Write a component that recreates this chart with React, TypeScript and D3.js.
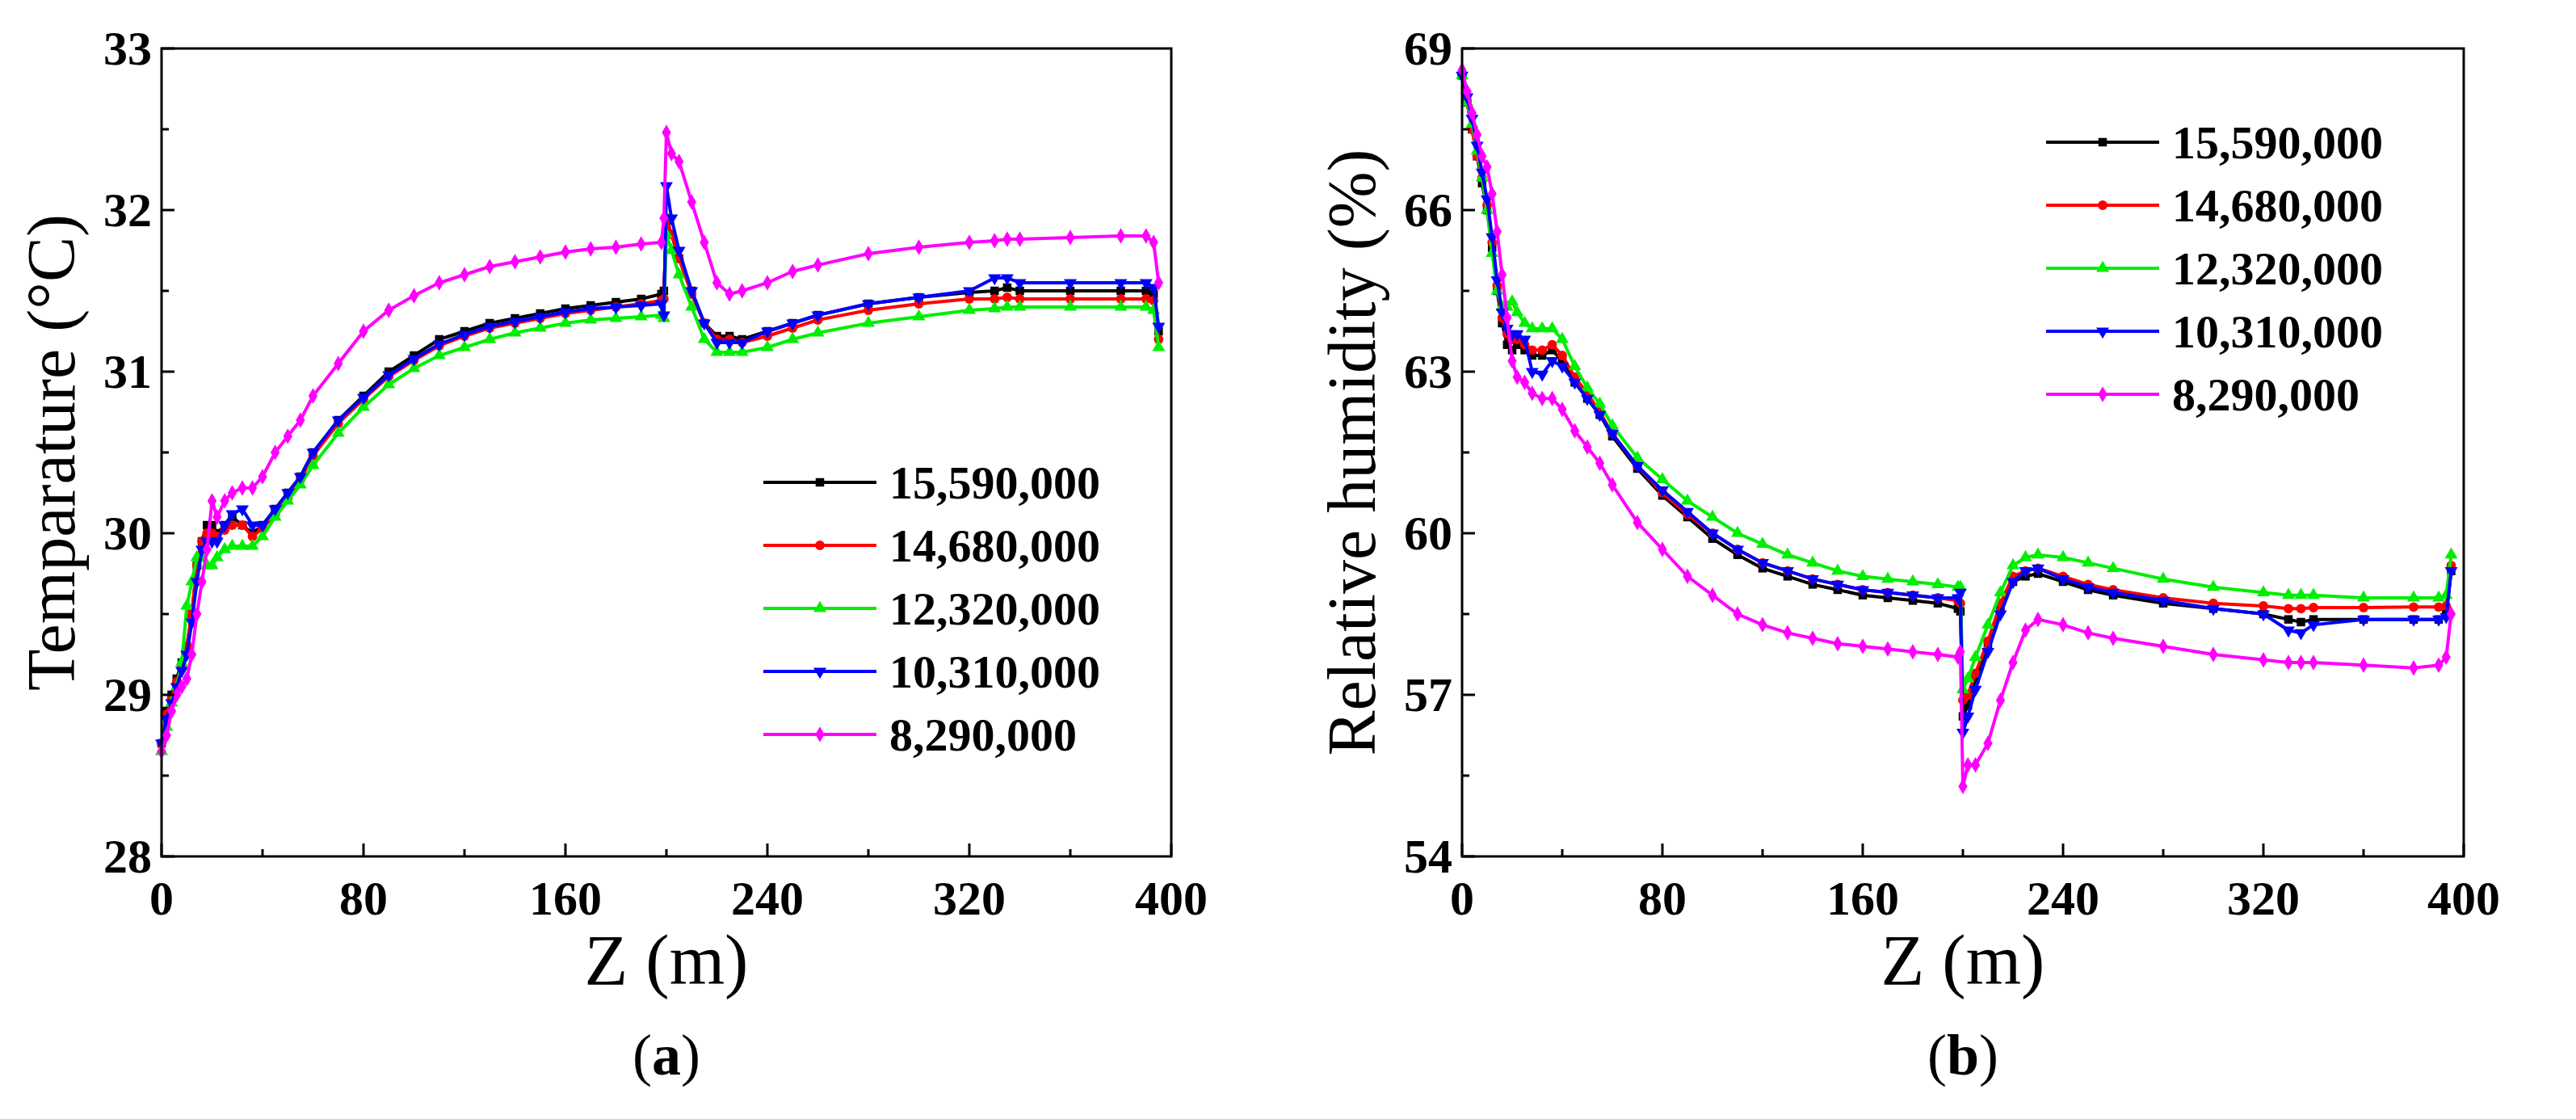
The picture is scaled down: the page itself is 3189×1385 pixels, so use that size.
import React from 'react';
import * as d3 from 'd3';

const zs = [0,2,4,6,8,10,12,14,16,18,20,22,25,28,32,36,40,45,50,55,60,70,80,90,100,110,120,130,140,150,160,170,180,190,198,199,200,202,205,210,215,220,225,230,240,250,260,280,300,320,330,335,340,360,380,390,393,395];

const seriesNames = ['15,590,000', '14,680,000', '12,320,000', '10,310,000', '8,290,000'];
const seriesColors = ['#000000', '#ff0000', '#00ee00', '#0000ff', '#ff00ff'];
const seriesSymbols = [d3.symbolSquare, d3.symbolCircle, d3.symbolTriangle, d3.symbolTriangle, d3.symbolDiamond];

const tempBlack = [28.7,28.9,29.0,29.1,29.2,29.3,29.5,29.8,29.95,30.05,30.05,30.0,30.05,30.1,30.05,30.0,30.05,30.15,30.25,30.35,30.5,30.7,30.85,31.0,31.1,31.2,31.25,31.3,31.33,31.36,31.39,31.41,31.43,31.45,31.48,31.5,31.9,31.85,31.7,31.5,31.3,31.22,31.22,31.2,31.25,31.3,31.35,31.42,31.46,31.49,31.5,31.52,31.5,31.5,31.5,31.5,31.48,31.25];
const tempRed = [28.7,28.88,28.98,29.08,29.18,29.3,29.5,29.8,29.95,30.0,30.0,29.98,30.02,30.05,30.05,29.98,30.03,30.12,30.22,30.33,30.48,30.68,30.83,30.97,31.07,31.16,31.22,31.27,31.3,31.33,31.36,31.38,31.4,31.42,31.44,31.45,31.95,31.85,31.7,31.48,31.3,31.2,31.2,31.18,31.22,31.27,31.32,31.38,31.42,31.45,31.45,31.46,31.45,31.45,31.45,31.45,31.44,31.2];
const tempGreen = [28.65,28.8,28.95,29.05,29.2,29.55,29.7,29.85,29.85,29.8,29.8,29.85,29.9,29.92,29.92,29.92,29.98,30.1,30.2,30.3,30.42,30.62,30.78,30.92,31.02,31.1,31.15,31.2,31.24,31.27,31.3,31.32,31.33,31.34,31.35,31.33,31.85,31.75,31.6,31.4,31.2,31.12,31.12,31.12,31.15,31.2,31.24,31.3,31.34,31.38,31.39,31.4,31.4,31.4,31.4,31.4,31.38,31.15];
const tempBlue = [28.7,28.85,28.95,29.05,29.15,29.25,29.45,29.7,29.9,29.95,29.95,29.95,30.05,30.12,30.15,30.05,30.05,30.15,30.25,30.35,30.5,30.7,30.84,30.98,31.08,31.17,31.23,31.28,31.31,31.34,31.37,31.39,31.4,31.41,31.42,31.35,32.15,31.95,31.75,31.5,31.3,31.18,31.18,31.18,31.25,31.3,31.35,31.42,31.46,31.5,31.58,31.58,31.55,31.55,31.55,31.55,31.52,31.28];
const tempMagenta = [28.65,28.75,28.9,29.0,29.05,29.1,29.25,29.5,29.7,29.9,30.2,30.1,30.2,30.25,30.28,30.28,30.35,30.5,30.6,30.7,30.85,31.05,31.25,31.38,31.47,31.55,31.6,31.65,31.68,31.71,31.74,31.76,31.77,31.79,31.8,31.95,32.48,32.35,32.3,32.05,31.8,31.55,31.48,31.5,31.55,31.62,31.66,31.73,31.77,31.8,31.81,31.82,31.82,31.83,31.84,31.84,31.8,31.55];

const rhBlack = [68.5,68.0,67.5,67.0,66.5,66.0,65.3,64.5,63.9,63.5,63.4,63.5,63.4,63.3,63.3,63.4,63.2,62.8,62.5,62.2,61.8,61.2,60.7,60.3,59.9,59.6,59.35,59.2,59.05,58.95,58.85,58.8,58.75,58.7,58.6,58.55,56.6,56.8,57.3,57.9,58.6,59.1,59.2,59.25,59.1,58.95,58.85,58.7,58.6,58.5,58.4,58.35,58.4,58.4,58.4,58.4,58.5,59.3];
const rhRed = [68.5,68.0,67.5,67.0,66.6,66.1,65.4,64.6,64.0,63.7,63.6,63.6,63.5,63.4,63.4,63.5,63.3,62.9,62.6,62.25,61.85,61.25,60.75,60.35,60.0,59.7,59.45,59.3,59.15,59.05,58.95,58.9,58.85,58.8,58.75,58.7,56.9,57.0,57.4,58.0,58.7,59.2,59.3,59.35,59.2,59.05,58.95,58.8,58.7,58.65,58.6,58.6,58.62,58.62,58.63,58.63,58.65,59.4];
const rhGreen = [68.5,68.0,67.6,67.1,66.6,66.0,65.2,64.5,64.2,64.2,64.3,64.1,63.9,63.8,63.8,63.8,63.6,63.1,62.7,62.4,62.0,61.4,61.0,60.6,60.3,60.0,59.8,59.6,59.45,59.3,59.2,59.15,59.1,59.05,59.0,59.0,57.1,57.3,57.7,58.3,58.9,59.4,59.55,59.6,59.55,59.45,59.35,59.15,59.0,58.9,58.85,58.85,58.85,58.8,58.8,58.8,58.85,59.6];
const rhBlue = [68.5,68.1,67.7,67.2,66.7,66.2,65.5,64.7,64.1,63.8,63.7,63.7,63.6,63.0,62.95,63.2,63.1,62.8,62.5,62.2,61.85,61.25,60.8,60.4,60.0,59.7,59.45,59.3,59.15,59.05,58.95,58.9,58.85,58.8,58.8,58.9,56.3,56.6,57.1,57.8,58.5,59.1,59.3,59.35,59.15,59.0,58.9,58.75,58.6,58.5,58.2,58.15,58.3,58.4,58.4,58.4,58.45,59.3];
const rhMagenta = [68.6,68.2,67.8,67.4,67.0,66.8,66.3,65.6,64.8,64.0,63.2,62.9,62.8,62.6,62.5,62.5,62.3,61.9,61.6,61.3,60.9,60.2,59.7,59.2,58.85,58.5,58.3,58.15,58.05,57.95,57.9,57.85,57.8,57.75,57.7,57.8,55.3,55.7,55.7,56.1,56.9,57.6,58.2,58.4,58.3,58.15,58.05,57.9,57.75,57.65,57.6,57.6,57.6,57.55,57.5,57.55,57.7,58.5];

const xTicks = [0, 80, 160, 240, 320, 400];
const tempTicks = [28, 29, 30, 31, 32, 33];
const rhTicks = [54, 57, 60, 63, 66, 69];

const serif = '"Liberation Serif", "Times New Roman", serif';

interface PanelProps {
  left: number;
  right: number;
  series: number[][];
  yDomain: [number, number];
  yTicks: number[];
  yLabel: string;
  caption: string;
  legendX: number;
  legendY: number;
}

function Panel({ left, right, series, yDomain, yTicks, yLabel, caption, legendX, legendY }: PanelProps) {
  const top = 60, bottom = 1060;
  const x = d3.scaleLinear().domain([0, 400]).range([left, right]);
  const y = d3.scaleLinear().domain(yDomain).range([bottom, top]);
  const step = yTicks[1] - yTicks[0];
  const minorY = yTicks.slice(0, -1).map(t => t + step / 2);
  const minorX = xTicks.slice(0, -1).map(t => t + 40);
  const line = d3.line<number>().x((_, i) => x(zs[i])).y(d => y(d));
  const sym = (i: number) => d3.symbol().type(seriesSymbols[i]).size(110)();

  return (
    <g>
      {series.map((vals, si) => (
        <g key={si}>
          <path d={line(vals) || ''} fill="none" stroke={seriesColors[si]} strokeWidth={4} />
          {vals.map((v, i) => (
            <path key={i} d={sym(si)} fill={seriesColors[si]}
              transform={`translate(${x(zs[i])},${y(v)})${si === 3 ? ' rotate(180)' : ''}`} />
          ))}
        </g>
      ))}
      <rect x={left} y={top} width={right - left} height={bottom - top} fill="none" stroke="#000" strokeWidth={3} />
      {xTicks.map(t => (
        <g key={t}>
          <line x1={x(t)} x2={x(t)} y1={bottom} y2={bottom - 16} stroke="#000" strokeWidth={3} />
          <text x={x(t)} y={bottom + 72} textAnchor="middle" fontFamily={serif} fontWeight="bold" fontSize={60}>{t}</text>
        </g>
      ))}
      {minorX.map(t => <line key={t} x1={x(t)} x2={x(t)} y1={bottom} y2={bottom - 9} stroke="#000" strokeWidth={3} />)}
      {yTicks.map(t => (
        <g key={t}>
          <line x1={left} x2={left + 16} y1={y(t)} y2={y(t)} stroke="#000" strokeWidth={3} />
          <text x={left - 12} y={y(t) + 20} textAnchor="end" fontFamily={serif} fontWeight="bold" fontSize={60}>{t}</text>
        </g>
      ))}
      {minorY.map(t => <line key={t} x1={left} x2={left + 9} y1={y(t)} y2={y(t)} stroke="#000" strokeWidth={3} />)}
      <text x={(left + right) / 2} y={1218} textAnchor="middle" fontFamily={serif} fontSize={88}>Z (m)</text>
      <text transform={`translate(${left - 108},${(top + bottom) / 2}) rotate(-90)`} textAnchor="middle" fontFamily={serif} fontSize={84}>{yLabel}</text>
      <text x={(left + right) / 2} y={1330} textAnchor="middle" fontFamily={serif} fontSize={72}>
        (<tspan fontWeight="bold">{caption}</tspan>)
      </text>
      {seriesNames.map((n, i) => {
        const ly = legendY + i * 78;
        return (
          <g key={n}>
            <line x1={legendX} x2={legendX + 140} y1={ly} y2={ly} stroke={seriesColors[i]} strokeWidth={4} />
            <path d={sym(i)} fill={seriesColors[i]} transform={`translate(${legendX + 70},${ly})${i === 3 ? ' rotate(180)' : ''}`} />
            <text x={legendX + 156} y={ly + 20} fontFamily={serif} fontWeight="bold" fontSize={58}>{n}</text>
          </g>
        );
      })}
    </g>
  );
}

export default function App() {
  return (
    <svg width={3189} height={1385} style={{ position: 'absolute', left: 0, top: 0, background: '#fff' }}>
      <Panel left={200} right={1450} series={[tempBlack, tempRed, tempGreen, tempBlue, tempMagenta]}
        yDomain={[28, 33]} yTicks={tempTicks} yLabel="Temparature (°C)" caption="a" legendX={945} legendY={597} />
      <Panel left={1810} right={3050} series={[rhBlack, rhRed, rhGreen, rhBlue, rhMagenta]}
        yDomain={[54, 69]} yTicks={rhTicks} yLabel="Relative humidity (%)" caption="b" legendX={2533} legendY={176} />
    </svg>
  );
}
